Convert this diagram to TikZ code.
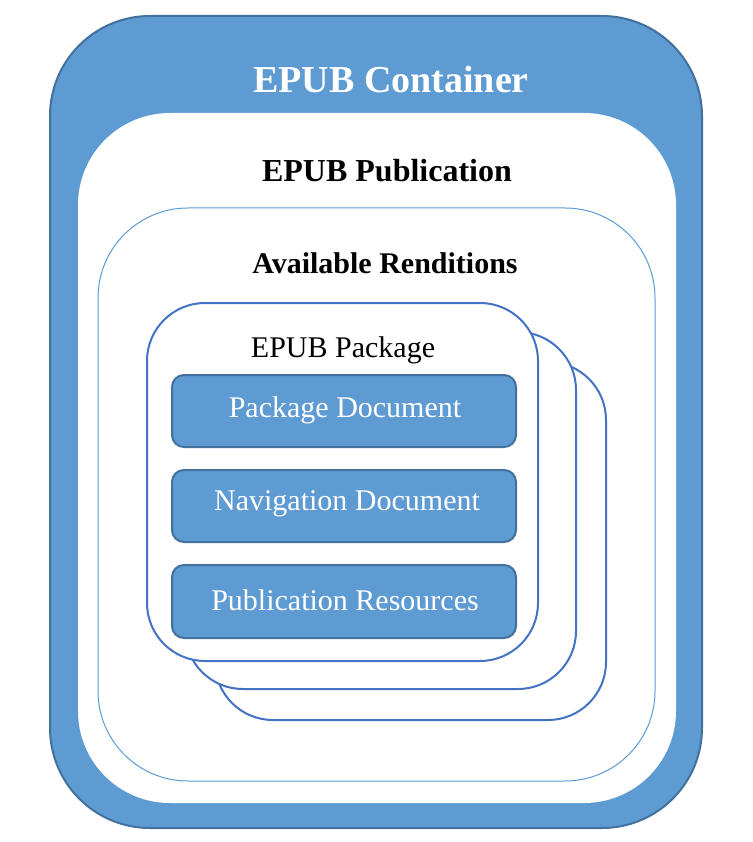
\documentclass[tikz,border=0pt]{standalone}
\usepackage{fontspec}
\setmainfont{Liberation Serif}
\definecolor{epubblue}{RGB}{95,155,211}
\definecolor{epubedge}{RGB}{65,113,156}
\definecolor{pkgedge}{RGB}{68,114,196}
\definecolor{rendedge}{RGB}{91,155,213}
\begin{document}
\begin{tikzpicture}[x=1pt, y=-1pt,
    pkgbox/.style={draw=pkgedge, fill=white, line width=2pt, rounded corners=58pt},
    docbox/.style={draw=epubedge, fill=epubblue, line width=2pt, rounded corners=12pt},
    doclabel/.style={text=white, font=\fontsize{30}{32}\selectfont}]
      \useasboundingbox (0, 0) rectangle (752, 842);

      \draw[draw=epubedge, fill=epubblue, line width=2pt, rounded corners=100pt] (50, 16) rectangle (702, 828);
      \fill[white, rounded corners=92pt] (78, 113) rectangle (676, 803);
      \draw[draw=rendedge, line width=1pt, rounded corners=90pt] (98, 208) rectangle (655, 781);

      \draw[pkgbox] (215, 362) rectangle (606, 720);
      \draw[pkgbox] (185, 332) rectangle (576, 689);
      \draw[pkgbox] (147, 303) rectangle (538, 661);

      \draw[docbox] (172, 375) rectangle (516, 447);
      \draw[docbox] (172, 470) rectangle (516, 542);
      \draw[docbox] (172, 565) rectangle (516, 638);

      \node[text=white, font=\bfseries\fontsize{38}{40}\selectfont] (container) at (391, 80) {EPUB Container};
      \node[font=\bfseries\fontsize{32}{34}\selectfont] (publication) at (387, 171) {EPUB Publication};
      \node[font=\bfseries\fontsize{30}{32}\selectfont] (renditions) at (385, 263) {Available Renditions};
      \node[font=\fontsize{30}{32}\selectfont] (package) at (343, 350) {EPUB Package};

      \node[doclabel] (pkgdoc) at (345, 410) {Package Document};
      \node[doclabel] (navdoc) at (347, 504) {Navigation Document};
      \node[doclabel] (pubres) at (345, 600) {Publication Resources};
    \end{tikzpicture}
\end{document}
